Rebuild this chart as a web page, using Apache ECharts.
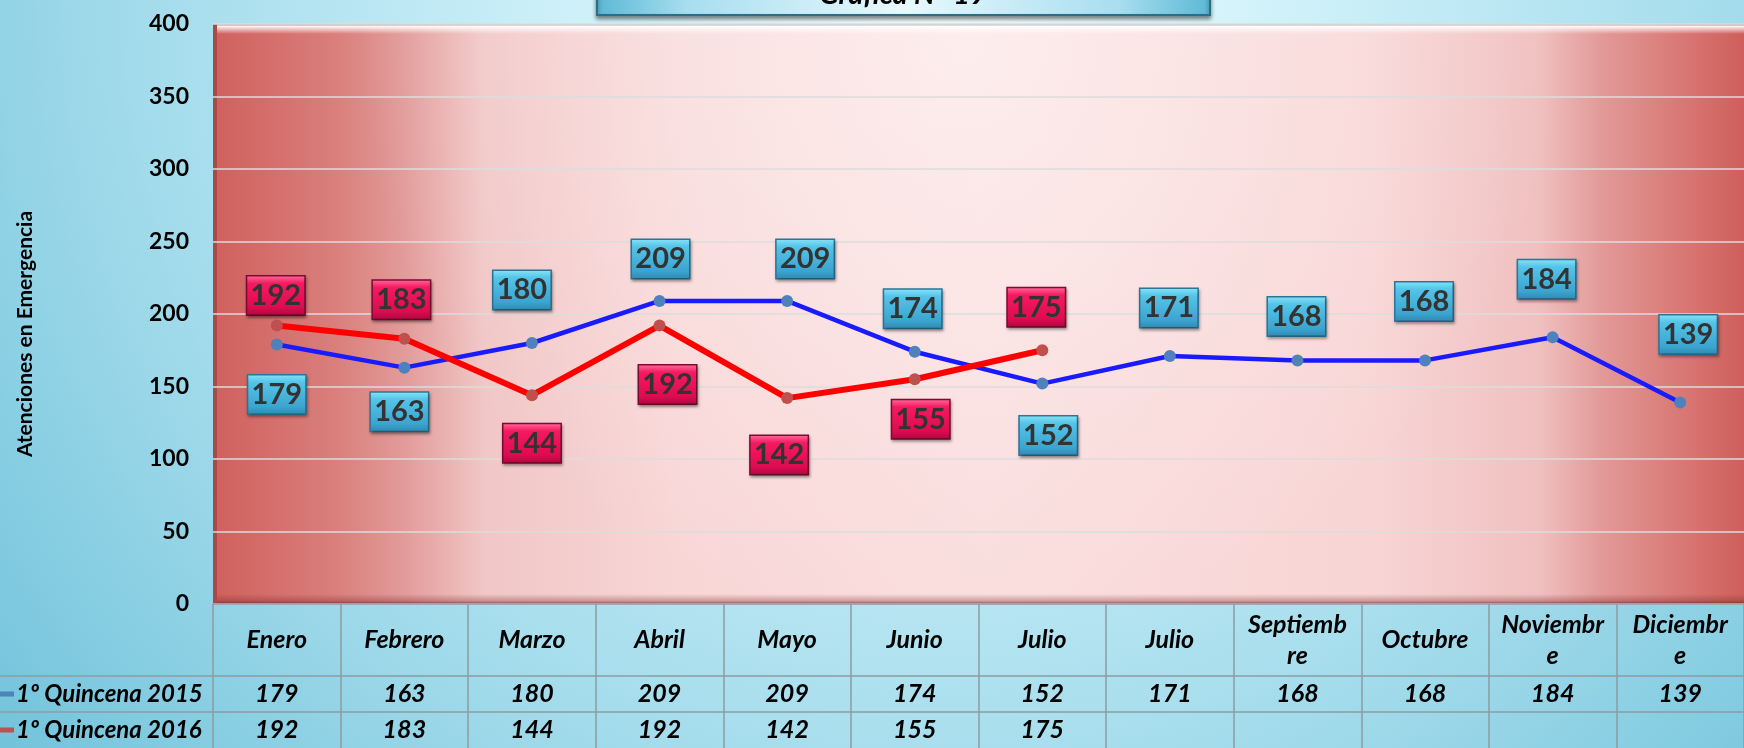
<!DOCTYPE html>
<html>
<head>
<meta charset="utf-8">
<title>Gráfica N° 19</title>
<script src="https://cdn.jsdelivr.net/npm/echarts@6/dist/echarts.min.js"></script>
<style>
  html, body { margin: 0; padding: 0; }
  #chart { width: 1744px; height: 748px; }
</style>
</head>
<body>
<div id="chart"></div>
<script>
const months = ['Enero', 'Febrero', 'Marzo', 'Abril', 'Mayo', 'Junio', 'Julio', 'Julio', 'Septiembre', 'Octubre', 'Noviembre', 'Diciembre']
const q2015 = [179, 163, 180, 209, 209, 174, 152, 171, 168, 168, 184, 139]
const q2016 = [192, 183, 144, 192, 142, 155, 175]
const seriesNames = ['1º Quincena 2015', '1º Quincena 2016']

// label box offsets from the point
const offsets2015 = [[0, 50], [-5, 44], [-10, -53], [1, -42], [18, -42], [-2, -43], [6, 52], [-1, -48], [-1, -44], [-1, -59], [-6, -58], [8, -68]]
const offsets2016 = [[-1, -30], [-3, -39], [0, 48], [8, 59], [-8, 57], [6, 40], [-6, -43]]

const FONT = 'Lato, "Open Sans", sans-serif'
const GRID = { left: 213, top: 24, right: -11, bottom: 144 }
const PLOT_W = 1744 - GRID.left - GRID.right
const PLOT_H = 748 - GRID.top - GRID.bottom
const LINE_GRAY = '#8c9ca2'

const vgrad = (stops) => ({
  type: 'linear', x: 0, y: 0, x2: 0, y2: 1,
  colorStops: stops.map(([offset, color]) => ({ offset, color }))
})

const boxLabel = (fill, border) => ({
  show: true,
  position: 'inside',
  fontFamily: FONT,
  fontSize: 29,
  fontWeight: 'bold',
  color: '#333333',
  width: 47,
  height: 32,
  lineHeight: 32,
  align: 'center',
  padding: [3, 5],
  backgroundColor: vgrad(fill),
  borderColor: border,
  borderWidth: 1.5,
  shadowColor: 'rgba(0,0,0,0.35)',
  shadowBlur: 3,
  shadowOffsetX: 1,
  shadowOffsetY: 2
})

const blueBox = boxLabel([[0, '#8ae6f8'], [0.2, '#55c4e8'], [0.8, '#3ba4cf'], [1, '#2e88b0']], '#2d7698')
const redBox = boxLabel([[0, '#ff6f9c'], [0.2, '#f51a62'], [0.8, '#dc0b50'], [1, '#a80840']], '#7d0a33')

const wrapMonth = (m) => m.length > 8 ? m.slice(0, 8) + '\n' + m.slice(8) : m

const tableLabel = {
  interval: 0,
  fontFamily: FONT,
  fontSize: 25,
  fontWeight: 'bold',
  fontStyle: 'italic',
  color: '#000'
}

const tableAxis = (data, offset, height) => ({
  type: 'category',
  position: 'bottom',
  offset,
  data,
  axisLine: { show: true, lineStyle: { color: LINE_GRAY, width: 1.5 } },
  axisTick: { show: true, interval: 0, length: height, lineStyle: { color: LINE_GRAY, width: 1.5 } },
  axisLabel: { ...tableLabel, margin: height / 2, verticalAlign: 'middle', lineHeight: 31 },
  splitLine: { show: false }
})

const option = {
  animation: false,
  grid: GRID,
  legend: {
    left: -1,
    top: 676,
    orient: 'vertical',
    padding: 0,
    itemGap: 0,
    icon: 'rect',
    itemWidth: 15,
    itemHeight: 5,
    textStyle: { ...tableLabel, fontSize: 24, lineHeight: 36, padding: [0, 0, 0, -3] },
    data: seriesNames
  },
  xAxis: [
    {
      ...tableAxis(months, 0, 72),
      axisLabel: { ...tableAxis(months, 0, 72).axisLabel, formatter: wrapMonth }
    },
    tableAxis(q2015.map(String), 72, 36),
    tableAxis(months.map((m, i) => q2016[i] != null ? String(q2016[i]) : ''), 108, 36)
  ],
  yAxis: {
    type: 'value',
    min: 0,
    max: 400,
    interval: 50,
    axisLine: { show: false },
    axisTick: { show: false },
    axisLabel: { fontFamily: FONT, fontSize: 23, fontWeight: 'bold', color: '#000', margin: 24 },
    splitLine: { lineStyle: { color: '#dcdcdc', width: 1.5 } }
  },
  series: [
    {
      name: seriesNames[0],
      type: 'line',
      xAxisIndex: 0,
      symbol: 'circle',
      symbolSize: 12,
      itemStyle: { color: '#4f81bd' },
      lineStyle: { color: '#1a1aff', width: 4.5 },
      label: blueBox,
      z: 3,
      data: q2015.map((v, i) => ({ value: v, label: { offset: offsets2015[i] } }))
    },
    {
      name: seriesNames[1],
      type: 'line',
      xAxisIndex: 0,
      symbol: 'circle',
      symbolSize: 12,
      itemStyle: { color: '#c0504d' },
      lineStyle: { color: '#ff0000', width: 6 },
      label: redBox,
      z: 4,
      data: q2016.map((v, i) => ({ value: v, label: { offset: offsets2016[i] } }))
    }
  ],
  graphic: [
    {
      type: 'rect', z: -30, silent: true,
      shape: { x: 0, y: 0, width: 1744, height: 748 },
      style: {
        fill: {
          type: 'radial', x: 940, y: 0, r: 1250, global: true,
          colorStops: [
            { offset: 0, color: '#f0fdff' },
            { offset: 0.3, color: '#cdf0f9' },
            { offset: 0.65, color: '#a2dbeb' },
            { offset: 1, color: '#6cc0d9' }
          ]
        }
      }
    },
    {
      type: 'rect', z: -20, silent: true,
      shape: { x: GRID.left, y: GRID.top, width: PLOT_W, height: PLOT_H },
      style: {
        fill: {
          type: 'linear', x: 0, y: 0, x2: 1, y2: 0,
          colorStops: [
            { offset: 0, color: '#d0605c' },
            { offset: 0.08, color: '#d97f7c' },
            { offset: 0.125, color: '#e29c9a' },
            { offset: 0.175, color: '#f1c6c6' },
            { offset: 0.3, color: '#f8d6d6' },
            { offset: 0.5, color: '#fadddd' },
            { offset: 0.75, color: '#f8d5d5' },
            { offset: 0.86, color: '#f0c0c0' },
            { offset: 0.9, color: '#e29a98' },
            { offset: 0.96, color: '#d77370' },
            { offset: 1, color: '#cd5a56' }
          ]
        }
      }
    },
    {
      type: 'rect', z: -19, silent: true,
      shape: { x: GRID.left, y: GRID.top, width: PLOT_W, height: PLOT_H },
      style: {
        fill: {
          type: 'radial', x: 960, y: 40, r: 600, global: true,
          colorStops: [
            { offset: 0, color: 'rgba(255,248,248,0.6)' },
            { offset: 0.6, color: 'rgba(255,245,245,0.25)' },
            { offset: 1, color: 'rgba(255,240,240,0)' }
          ]
        }
      }
    },
    {
      type: 'rect', z: -18, silent: true,
      shape: { x: GRID.left, y: GRID.top, width: PLOT_W, height: 10 },
      style: { fill: vgrad([[0, 'rgba(160,160,160,0.8)'], [0.25, 'rgba(255,255,255,0.9)'], [1, 'rgba(255,255,255,0)']]) }
    },
    {
      type: 'rect', z: -18, silent: true,
      shape: { x: GRID.left, y: GRID.top + PLOT_H - 10, width: PLOT_W, height: 10 },
      style: { fill: vgrad([[0, 'rgba(120,40,40,0)'], [0.7, 'rgba(120,40,40,0.35)'], [1, 'rgba(90,30,30,0.75)']]) }
    },
    {
      type: 'rect', z: -18, silent: true,
      shape: { x: GRID.left, y: GRID.top, width: 4, height: PLOT_H },
      style: { fill: '#a84a47' }
    },
    {
      type: 'line', z: 10, silent: true,
      shape: { x1: 0, y1: 676, x2: GRID.left, y2: 676 },
      style: { stroke: LINE_GRAY, lineWidth: 1.5 }
    },
    {
      type: 'line', z: 10, silent: true,
      shape: { x1: 0, y1: 712, x2: GRID.left, y2: 712 },
      style: { stroke: LINE_GRAY, lineWidth: 1.5 }
    },
    {
      type: 'text', z: 10, silent: true,
      x: 25, y: 334, rotation: Math.PI / 2,
      style: {
        text: 'Atenciones en Emergencia',
        fontFamily: FONT, fontSize: 21, fontWeight: 'bold',
        fill: '#000', align: 'center', verticalAlign: 'middle'
      }
    },
    {
      type: 'rect', z: 50, silent: true,
      shape: { x: 597, y: -22, width: 613, height: 37 },
      style: {
        fill: {
          type: 'linear', x: 0, y: 0, x2: 1, y2: 0,
          colorStops: [
            { offset: 0, color: '#5bb8d4' },
            { offset: 0.15, color: '#a8def0' },
            { offset: 0.5, color: '#e8f9fd' },
            { offset: 0.85, color: '#a8def0' },
            { offset: 1, color: '#5bb8d4' }
          ]
        },
        stroke: '#2b6f86', lineWidth: 2,
        shadowColor: 'rgba(0,0,0,0.45)', shadowBlur: 4, shadowOffsetY: 3
      }
    },
    {
      type: 'text', z: 51, silent: true,
      x: 903, y: 9,
      style: {
        text: 'Gráfica N° 19',
        fontFamily: FONT, fontSize: 29, fontWeight: 'bold', fontStyle: 'italic',
        fill: '#000', align: 'center', verticalAlign: 'bottom'
      }
    }
  ]
}

const chart = echarts.init(document.getElementById('chart'))
chart.setOption(option)
window.addEventListener('resize', () => chart.resize())
</script>
</body>
</html>
